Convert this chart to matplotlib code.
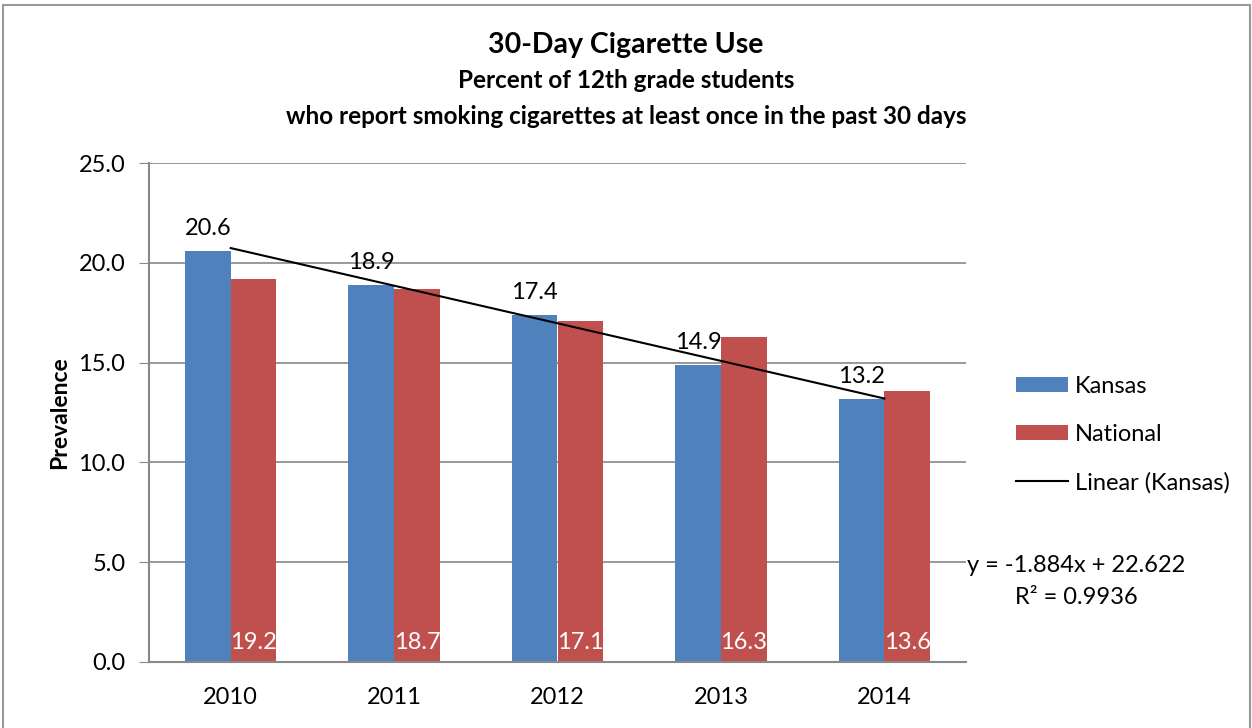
import matplotlib.pyplot as plt
import numpy as np
from matplotlib.patches import Rectangle

years = ["2010", "2011", "2012", "2013", "2014"]
kansas = [20.6, 18.9, 17.4, 14.9, 13.2]
national = [19.2, 18.7, 17.1, 16.3, 13.6]
y_ticks = [0, 5, 10, 15, 20, 25]

# Kansas linear trend as reported with the chart
trend_slope = -1.884
trend_icpt = 22.622
trend_r2 = 0.9936

plt.rcParams['font.family'] = ['Lato', 'DejaVu Sans']

W, H = 1252, 728
fig = plt.figure(figsize=(W / 100, H / 100), dpi=100)
ax = fig.add_axes([149 / W, 1 - 662 / H, (966 - 149) / W, (662 - 163) / H])

x = np.arange(len(years))
bw = 0.28
b1 = ax.bar(x - bw / 2, kansas, bw, color="#4F81BD", label="Kansas", zorder=2)
b2 = ax.bar(x + bw / 2, national, bw, color="#C0504D", label="National", zorder=2)

# trend line over x = 1..5
fit = trend_slope * (x + 1) + trend_icpt
line, = ax.plot(x, fit, color="black", lw=1.5, label="Linear (Kansas)", zorder=3)

for xi, v in zip(x, kansas):
    ax.text(xi - bw / 2, v + 0.6, f"{v:.1f}", ha="center", va="bottom", fontsize=17)
for xi, v in zip(x, national):
    ax.text(xi + bw / 2, 0.45, f"{v:.1f}", ha="center", va="bottom", fontsize=17, color="white")

ax.set_xlim(-0.5, len(years) - 0.5)
ax.set_ylim(0, 25)
ax.set_yticks(y_ticks)
ax.set_yticklabels([f"{v:.1f}" for v in y_ticks], fontsize=17)
ax.set_xticks(x)
ax.set_xticklabels(years, fontsize=17)
ax.tick_params(axis="x", length=0, pad=18)
ax.tick_params(axis="y", length=7, color="#888888", pad=10)
ax.yaxis.grid(True, color="#888888", lw=1.2, zorder=0)
for s in ["top", "right"]:
    ax.spines[s].set_visible(False)
for s in ["left", "bottom"]:
    ax.spines[s].set_color("#888888")
    ax.spines[s].set_linewidth(1.5)
ax.set_ylabel("Prevalence", fontsize=16.5, fontweight="bold", labelpad=6)

fig.text(0.5, 1 - 45 / H, "30-Day Cigarette Use", ha="center", va="center",
         fontsize=20.5, fontweight="bold")
fig.text(0.5, 1 - 81 / H, "Percent of 12th grade students", ha="center", va="center",
         fontsize=17.5, fontweight="bold")
fig.text(0.5, 1 - 116 / H, "who report smoking cigarettes at least once in the past 30 days",
         ha="center", va="center", fontsize=17.5, fontweight="bold")

fig.legend(handles=[b1, b2, line], loc="upper left",
           bbox_to_anchor=(995 / W, 1 - 355 / H), frameon=False, fontsize=17,
           handlelength=2.2, handleheight=0.6, labelspacing=1.13, handletextpad=0.3)

fig.text(1076 / W, 1 - 565 / H, f"y = {trend_slope:.3f}x + {trend_icpt:.3f}",
         ha="center", va="center", fontsize=17)
fig.text(1076 / W, 1 - 598 / H, f"R² = {trend_r2:.4f}", ha="center", va="center", fontsize=17)

fig.patches.append(Rectangle((3 / W, -0.01), (1250 - 3) / W, 1 - 5 / H + 0.01,
                             transform=fig.transFigure, fill=False,
                             edgecolor="#999999", lw=1.5))

fig.savefig("out.png", dpi=100)
